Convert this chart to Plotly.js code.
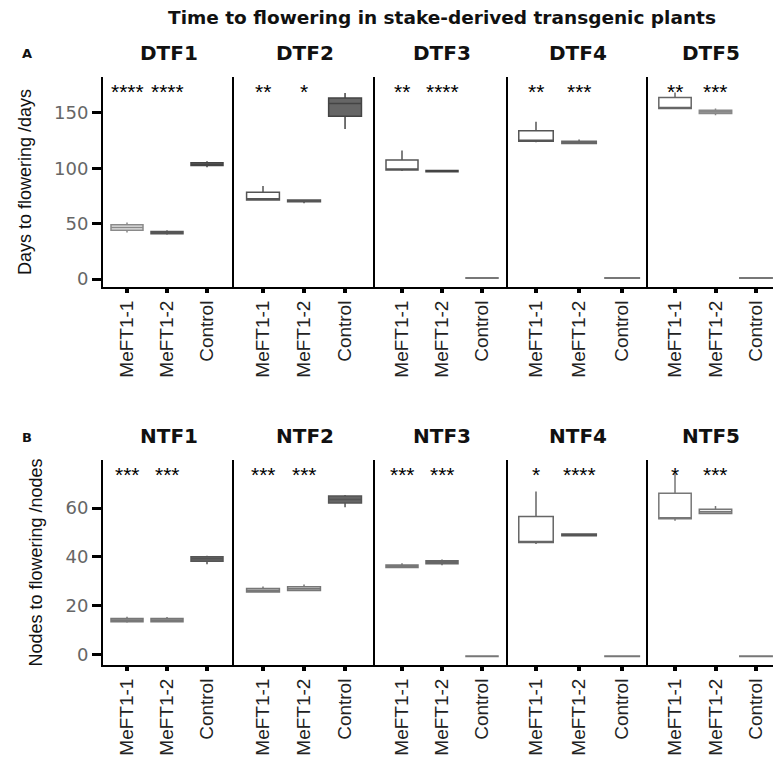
<!DOCTYPE html>
<html><head><meta charset="utf-8">
<script src="https://cdn.plot.ly/plotly-3.0.1.min.js"></script>
<style>html,body{margin:0;padding:0;background:#fff}</style>
</head><body><div id="chart" style="width:773px;height:757px"></div>
<script>
// ---------- data ----------
const groups = ['MeFT1-1', 'MeFT1-2', 'Control'];
const dtfPanels = ['DTF1', 'DTF2', 'DTF3', 'DTF4', 'DTF5'];
const ntfPanels = ['NTF1', 'NTF2', 'NTF3', 'NTF4', 'NTF5'];

// Days to flowering (order: panel by panel, MeFT1-1, MeFT1-2, Control)
const dtfLow  = [42, 40, 101,    71, 68.5, 135.5,   97.5, 96.5, 0.5,   123.5, 122, 0.5,   153.5, 148, 0.5];
const dtfQ1   = [44, 41, 102.5,  71.5, 69.8, 147,   98.5, 97, 0.8,     124.5, 122.5, 0.8, 154, 149.5, 0.8];
const dtfMed  = [46.5, 42, 103.5, 72.5, 70.5, 158.5, 99, 97.5, 1,      125, 123.5, 1,     154.5, 151, 1];
const dtfQ3   = [49, 43, 105,    78.3, 71.5, 163.5, 107.5, 98, 1.2,    134, 124.5, 1.2,   164, 152.5, 1.2];
const dtfHigh = [51, 44, 106.5,  84, 71.5, 168,     116, 98, 1.5,      142, 126, 1.5,     168.5, 154, 1.5];
const dtfStars = ['****', '****', '**', '*', '**', '****', '**', '***', '**', '***'];
const dtfTicks = [0, 50, 100, 150];

// Nodes to flowering
const ntfLow  = [13.2, 13.4, 37,   25.5, 26, 60.3,   35.5, 36.6, -0.8,  45.3, 48.5, -0.8,  54.8, 57.5, -0.8];
const ntfQ1   = [13.6, 13.6, 38.3, 25.7, 26.3, 62,   35.7, 37.2, -0.6,  45.9, 48.7, -0.6,  55.6, 57.8, -0.6];
const ntfMed  = [14.2, 14.2, 39.3, 26.3, 27, 63.5,   36.2, 37.9, -0.5,  46.3, 49, -0.5,    56, 58.5, -0.5];
const ntfQ3   = [14.9, 14.9, 40.1, 27.1, 27.8, 64.9, 36.7, 38.5, -0.4,  56.5, 49.4, -0.4,  66, 59.5, -0.4];
const ntfHigh = [15.6, 15.5, 40.5, 28, 28.8, 65.3,   37.4, 39, -0.2,    66.7, 49.7, -0.2,  75, 60.8, -0.2];
const ntfStars = ['***', '***', '***', '***', '***', '***', '*', '****', '*', '***'];
const ntfTicks = [0, 20, 40, 60];

// ---------- styles ----------
const dtfFill = ['#e6e6e6','#8c8c8c','#777777', '#ffffff','#8c8c8c','#666666', '#ffffff','#ffffff','#ffffff', '#ffffff','#9a9a9a','#ffffff', '#ffffff','#aaaaaa','#ffffff'];
const dtfLine = ['#8a8a8a','#555555','#444444', '#555555','#555555','#444444', '#555555','#444444','#777777', '#555555','#666666','#777777', '#666666','#888888','#777777'];
const ntfFill = ['#aaaaaa','#aaaaaa','#666666', '#cccccc','#dddddd','#666666', '#bbbbbb','#bbbbbb','#ffffff', '#ffffff','#888888','#ffffff', '#ffffff','#eeeeee','#ffffff'];
const ntfLine = ['#777777','#777777','#555555', '#777777','#777777','#555555', '#777777','#666666','#777777', '#666666','#555555','#777777', '#777777','#777777','#777777'];

const W = 773, H = 757, ML = 103;
const plotW = W - ML;
const panelPx = [[0,131],[131,272],[272,405],[405,545],[545,670]];
const xDomains = panelPx.map(d => [d[0]/plotW, d[1]/plotW]);
const xRanges = [[-0.6,2.675],[-0.707,2.73],[-0.675,2.65],[-0.65,2.6],[-0.667,2.42]];
const rowDomains = [[1-287/H, 1-77/H], [1-665/H, 1-460/H]];
const yRanges = [[-7.2, 182.5], [-4.1, 79.6]];
const sansFont = 'Liberation Sans, Arial, sans-serif';

const traces = [];
const layout = {
  width: W, height: H,
  margin: {l: ML, r: 0, t: 0, b: 0},
  paper_bgcolor: '#fff', plot_bgcolor: '#fff',
  showlegend: false,
  title: {text: '<b>Time to flowering in stake-derived transgenic plants</b>',
          x: 442/W, xref: 'container', y: 1-18/H, yref: 'container', xanchor: 'center', yanchor: 'middle',
          font: {family: 'DejaVu Sans', size: 18.5, color: '#111'}},
  annotations: []
};

function axName(n) { return n === 1 ? '' : String(n); }

function addRow(row, panels, lo, q1, med, q3, hi, stars, fills, lines, ticks, ytitle) {
  for (let p = 0; p < 5; p++) {
    const n = row*5 + p + 1;
    const xa = 'x' + axName(n), ya = 'y' + axName(n);
    for (let g = 0; g < 3; g++) {
      const i = p*3 + g;
      traces.push({
        type: 'box', x: [groups[g]],
        q1: [q1[i]], median: [med[i]], q3: [q3[i]],
        lowerfence: [lo[i]], upperfence: [hi[i]],
        xaxis: xa, yaxis: ya,
        fillcolor: fills[i], line: {color: lines[i], width: 1.5},
        whiskerwidth: 0, width: 0.8, boxpoints: false,
        hoverinfo: 'skip', name: panels[p] + ' ' + groups[g]
      });
    }
    layout['xaxis' + axName(n)] = {
      domain: xDomains[p], range: xRanges[p], type: 'category',
      categoryorder: 'array', categoryarray: groups,
      anchor: ya, showline: true, linecolor: '#000', linewidth: 2,
      ticks: 'outside', ticklen: 4, tickwidth: 4, tickcolor: '#000',
      tickangle: -90,
      tickfont: {family: sansFont, size: 19, color: '#222'},
      showgrid: false, zeroline: false, fixedrange: true
    };
    const yax = {
      domain: rowDomains[row], range: yRanges[row],
      anchor: xa, showline: true, linecolor: '#000', linewidth: 2,
      showgrid: false, zeroline: false, fixedrange: true
    };
    if (p === 0) {
      Object.assign(yax, {
        ticks: 'outside', ticklen: 9, tickwidth: 3, tickcolor: '#000',
        tickmode: 'array', tickvals: ticks, ticktext: ticks.map(String),
        tickfont: {family: 'DejaVu Sans', size: 18, color: '#666'},
        title: {text: ytitle, standoff: 18,
                font: {family: sansFont, size: 18, color: '#111'}}
      });
    } else {
      Object.assign(yax, {ticks: '', showticklabels: false});
    }
    layout['yaxis' + axName(n)] = yax;

    // panel title
    layout.annotations.push({
      text: '<b>' + panels[p] + '</b>', xref: xa + ' domain', yref: ya + ' domain',
      x: 0.5, y: 1, xanchor: 'center', yanchor: 'bottom', yshift: 10, showarrow: false,
      font: {family: 'DejaVu Sans', size: 20, color: '#111'}
    });
    // significance stars
    for (let g = 0; g < 2; g++) {
      layout.annotations.push({
        text: stars[p*2 + g], xref: xa, yref: ya + ' domain',
        x: groups[g], y: 0.93, xanchor: 'center', yanchor: 'middle', showarrow: false,
        font: {family: sansFont, size: 21, color: '#000'}
      });
    }
  }
}

addRow(0, dtfPanels, dtfLow, dtfQ1, dtfMed, dtfQ3, dtfHigh, dtfStars, dtfFill, dtfLine, dtfTicks, 'Days to flowering /days');
addRow(1, ntfPanels, ntfLow, ntfQ1, ntfMed, ntfQ3, ntfHigh, ntfStars, ntfFill, ntfLine, ntfTicks, 'Nodes to flowering /nodes');

// section labels (paper x measured from the plot area's left edge)
layout.annotations.push({text: '<b>A</b>', xref: 'paper', yref: 'paper', x: (27-ML)/plotW, y: 1-53/H,
  xanchor: 'center', yanchor: 'middle', showarrow: false, font: {family: 'DejaVu Sans', size: 13, color: '#111'}});
layout.annotations.push({text: '<b>B</b>', xref: 'paper', yref: 'paper', x: (27-ML)/plotW, y: 1-437/H,
  xanchor: 'center', yanchor: 'middle', showarrow: false, font: {family: 'DejaVu Sans', size: 13, color: '#111'}});

Plotly.newPlot('chart', traces, layout, {staticPlot: true, displayModeBar: false});
</script>
</body></html>
